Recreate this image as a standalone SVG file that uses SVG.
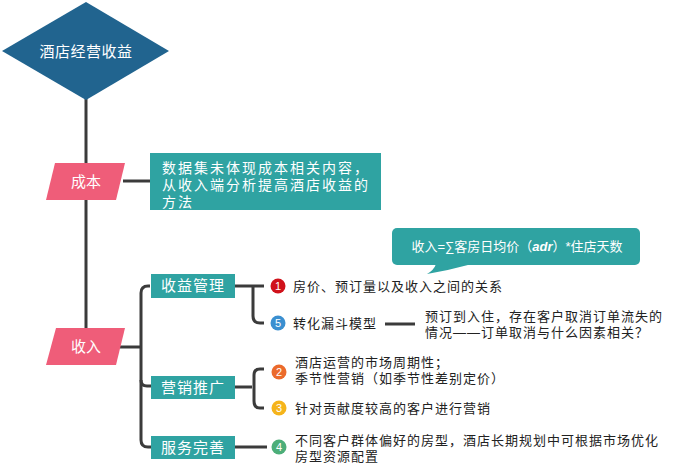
<svg xmlns="http://www.w3.org/2000/svg" width="679" height="468" viewBox="0 0 679 468">
<style>
.ln{fill:none;stroke:#3b3b3b;stroke-width:3;stroke-linecap:butt;stroke-linejoin:round}
.pk{fill:#ef5d79}
.tl{fill:#2fa3a2}
.wt{fill:#ffffff;font-family:"Liberation Sans","Noto Sans CJK SC",sans-serif}
.bk{fill:#222222;font-family:"Liberation Sans","Noto Sans CJK SC",sans-serif;font-size:13px;letter-spacing:1px}
.num{fill:#ffffff;font-family:"Liberation Sans",Arial,sans-serif;font-size:11px;text-anchor:middle}
</style>
<rect width="679" height="468" fill="#ffffff"/>
<g id="connectors">
<line class="ln" x1="86" y1="98" x2="86" y2="330"/>
<line class="ln" x1="123" y1="181" x2="152" y2="181"/>
<line class="ln" x1="120" y1="347" x2="141" y2="347"/>
<path class="ln" d="M150 286 H148 Q141 286 141 293 V440 Q141 447 148 447 H152"/>
<path class="ln" d="M141 380 Q141 386 147 386 H152"/>
<path class="ln" d="M234 286 H264"/>
<path class="ln" d="M253 286 V316 Q253 323 260 323 H264"/>
<path class="ln" d="M234 387 H252"/>
<path class="ln" d="M264 369 H260 Q254 369 254 375 V401 Q254 408 260 408 H264"/>
<path class="ln" d="M234 447 H267"/>
<line class="ln" x1="385" y1="324" x2="415" y2="324"/>
</g>
<g id="root">
<polygon points="86,2 169,51 86,100 2,51" fill="#21648f"/>
<text class="wt" x="86" y="57" font-size="15" text-anchor="middle" letter-spacing="0.5">酒店经营收益</text>
</g>
<g id="cost">
<polygon class="pk" points="55,163 125,163 116,200 46,200"/>
<text class="wt" x="86" y="187" font-size="15" text-anchor="middle">成本</text>
</g>
<g id="cost-note">
<rect class="tl" x="150" y="153" width="231" height="57"/>
<text class="wt" font-size="14" letter-spacing="2"><tspan x="162" y="173">数据集未体现成本相关内容，</tspan><tspan x="162" y="190">从收入端分析提高酒店收益的</tspan><tspan x="162" y="207">方法</tspan></text>
</g>
<g id="income">
<polygon class="pk" points="56,328 125,328 116,365 46,365"/>
<text class="wt" x="86" y="352" font-size="15" text-anchor="middle">收入</text>
</g>
<g id="formula">
<rect class="tl" x="392" y="228" width="248" height="37" rx="5"/>
<path class="tl" d="M436 264 Q434 270 427 274 Q450 270 472 264 Z"/>
<text class="wt" x="517" y="251" font-size="13" text-anchor="middle" font-family="'Liberation Serif','Noto Sans CJK SC',serif">收入=∑客房日均价（<tspan font-style="italic" font-weight="bold">adr</tspan>）*住店天数</text>
</g>
<g id="revenue-mgmt">
<rect class="tl" x="151" y="274" width="84" height="24"/>
<text class="wt" x="193" y="291" font-size="15" text-anchor="middle" letter-spacing="1">收益管理</text>
</g>
<g id="marketing">
<rect class="tl" x="151" y="376" width="84" height="23"/>
<text class="wt" x="193" y="393" font-size="15" text-anchor="middle" letter-spacing="1">营销推广</text>
</g>
<g id="service">
<rect class="tl" x="151" y="436" width="84" height="23"/>
<text class="wt" x="193" y="453" font-size="15" text-anchor="middle" letter-spacing="1">服务完善</text>
</g>
<g id="item1">
<circle cx="278" cy="286" r="7.5" fill="#d0121b"/>
<text class="num" x="278" y="290">1</text>
<text class="bk" x="293" y="291">房价、预订量以及收入之间的关系</text>
</g>
<g id="item5">
<circle cx="278" cy="323" r="7.5" fill="#3a8fd0"/>
<text class="num" x="278" y="327">5</text>
<text class="bk" x="293" y="328">转化漏斗模型</text>
</g>
<g id="item5-note">
<text class="bk" x="425" y="321">预订到入住，存在客户取消订单流失的</text>
<text class="bk" x="425" y="337">情况——订单取消与什么因素相关？</text>
</g>
<g id="item2">
<circle cx="279" cy="372" r="7.5" fill="#eb6a2b"/>
<text class="num" x="279" y="376">2</text>
<text class="bk" x="295" y="367">酒店运营的市场周期性；</text>
<text class="bk" x="295" y="383">季节性营销（如季节性差别定价）</text>
</g>
<g id="item3">
<circle cx="279" cy="408" r="7.5" fill="#f5b41b"/>
<text class="num" x="279" y="412">3</text>
<text class="bk" x="295" y="413">针对贡献度较高的客户进行营销</text>
</g>
<g id="item4">
<circle cx="279" cy="447" r="7.5" fill="#4cae79"/>
<text class="num" x="279" y="451">4</text>
<text class="bk" x="295" y="445">不同客户群体偏好的房型，酒店长期规划中可根据市场优化</text>
<text class="bk" x="295" y="461">房型资源配置</text>
</g>
</svg>
